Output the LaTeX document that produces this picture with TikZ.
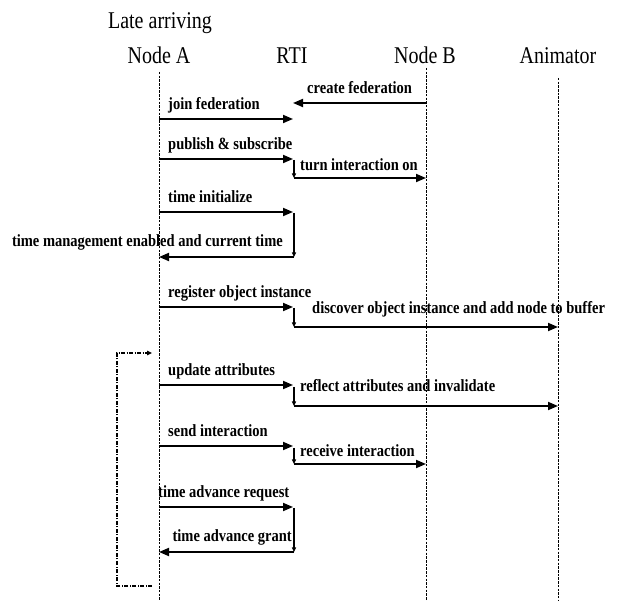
\documentclass[tikz,border=0pt]{standalone}
\usepackage{fontspec}
\setmainfont{Liberation Serif}
\usetikzlibrary{arrows.meta}
\newcommand{\tallhead}[1]{\scalebox{1}[1.2]{#1}}
\newcommand{\talllbl}[1]{\scalebox{1}[1.18]{#1}}
\begin{document}
\begin{tikzpicture}[x=1pt,y=-1pt,
  head/.style={font=\fontsize{20}{22}\selectfont, inner sep=0pt, anchor=base},
  lbl/.style={font=\bfseries\fontsize{14.5}{16}\selectfont, inner sep=0pt, anchor=base west},
  lblr/.style={lbl, anchor=base east},
  life/.style={line width=0.75pt, dash pattern=on 2.5pt off 1.2pt},
  msg/.style={line width=1.8pt, -{Triangle[length=10pt,width=8pt]}},
  drop/.style={line width=1.1pt, -{Triangle[length=4.5pt,width=4pt]}},
  loopline/.style={line width=1.1pt, dash pattern=on 4pt off 1.5pt on 1pt off 1.5pt, -{Triangle[length=5pt,width=4.5pt]}}
]
\useasboundingbox (0,0) rectangle (627,601);

% headers
\node[head] (late) at (160,29) {\tallhead{Late arriving}};
\node[head] (hA) at (159,64) {\tallhead{Node A}};
\node[head] (hR) at (292,64) {\tallhead{RTI}};
\node[head] (hB) at (425,64) {\tallhead{Node B}};
\node[head] (hN) at (558,64) {\tallhead{Animator}};

% lifelines
\coordinate (Atop) at (159,72);  \coordinate (Abot) at (159,601);
\coordinate (Btop) at (426,68);  \coordinate (Bbot) at (426,601);
\coordinate (Ntop) at (558,78);  \coordinate (Nbot) at (558,601);
\draw[life] (Atop) -- (Abot);
\draw[life] (Btop) -- (Bbot);
\draw[life] (Ntop) -- (Nbot);

% create federation
\coordinate (m1s) at (426,103); \coordinate (m1e) at (293,103);
\draw[msg] (m1s) -- (m1e);
\node[lbl] (t1) at (307,94) {\talllbl{create federation}};

% join federation
\coordinate (m2s) at (159,119); \coordinate (m2e) at (293,119);
\draw[msg] (m2s) -- (m2e);
\node[lbl] (t2) at (168,110) {\talllbl{join federation}};

% publish & subscribe + turn interaction on
\coordinate (m3s) at (159,159); \coordinate (m3e) at (293,159);
\draw[msg] (m3s) -- (m3e);
\node[lbl] (t3) at (168,150) {\talllbl{publish \& subscribe}};
\coordinate (d3s) at (294,160); \coordinate (d3e) at (294,178);
\draw[drop] (d3s) -- (d3e);
\coordinate (m4e) at (426,178);
\draw[msg] (d3e) -- (m4e);
\node[lbl] (t4) at (300,171) {\talllbl{turn interaction on}};

% time initialize + time management enabled
\coordinate (m5s) at (159,212); \coordinate (m5e) at (293,212);
\draw[msg] (m5s) -- (m5e);
\node[lbl] (t5) at (168,203) {\talllbl{time initialize}};
\coordinate (d5s) at (294,213); \coordinate (d5e) at (294,257);
\draw[drop] (d5s) -- (d5e);
\coordinate (m6e) at (159,257);
\draw[msg] (d5e) -- (m6e);
\node[lblr] (t6) at (283,247) {\talllbl{time management enabled and current time}};

% register object instance + discover
\coordinate (m7s) at (159,307); \coordinate (m7e) at (293,307);
\draw[msg] (m7s) -- (m7e);
\node[lbl] (t7) at (168,298) {\talllbl{register object instance}};
\coordinate (d7s) at (294,308); \coordinate (d7e) at (294,327);
\draw[drop] (d7s) -- (d7e);
\coordinate (m8e) at (558,327);
\draw[msg] (d7e) -- (m8e);
\node[lbl] (t8) at (312,314) {\talllbl{discover object instance and add node to buffer}};

% loop
\coordinate (lp1) at (152,586); \coordinate (lp2) at (117,586); \coordinate (lp3) at (152,353);
\draw[loopline] (lp1) -- (lp2) |- (lp3);

% update attributes + reflect
\coordinate (m9s) at (159,385); \coordinate (m9e) at (293,385);
\draw[msg] (m9s) -- (m9e);
\node[lbl] (t9) at (168,376) {\talllbl{update attributes}};
\coordinate (d9s) at (294,387); \coordinate (d9e) at (294,406);
\draw[drop] (d9s) -- (d9e);
\coordinate (m10e) at (558,406);
\draw[msg] (d9e) -- (m10e);
\node[lbl] (t10) at (300,392) {\talllbl{reflect attributes and invalidate}};

% send interaction + receive
\coordinate (m11s) at (159,446); \coordinate (m11e) at (293,446);
\draw[msg] (m11s) -- (m11e);
\node[lbl] (t11) at (168,437) {\talllbl{send interaction}};
\coordinate (d11s) at (294,448); \coordinate (d11e) at (294,464);
\draw[drop] (d11s) -- (d11e);
\coordinate (m12e) at (426,464);
\draw[msg] (d11e) -- (m12e);
\node[lbl] (t12) at (300,457) {\talllbl{receive interaction}};

% time advance request + grant
\coordinate (m13s) at (159,507); \coordinate (m13e) at (293,507);
\draw[msg] (m13s) -- (m13e);
\node[lbl] (t13) at (158,498) {\talllbl{time advance request}};
\coordinate (d13s) at (294,508); \coordinate (d13e) at (294,552);
\draw[drop] (d13s) -- (d13e);
\coordinate (m14e) at (159,552);
\draw[msg] (d13e) -- (m14e);
\node[lblr] (t14) at (292,541) {\talllbl{time advance grant}};
\end{tikzpicture}
\end{document}
